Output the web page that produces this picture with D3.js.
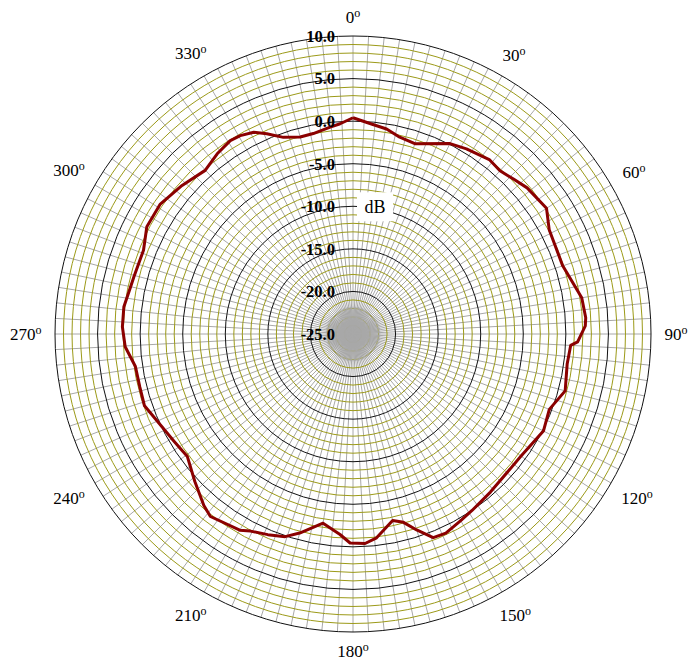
<!DOCTYPE html>
<html>
<head>
<meta charset="utf-8">
<script src="https://cdn.jsdelivr.net/npm/d3@7"></script>
<style>
	body { margin: 0; background: #fff; }
	svg text { font-family: 'Liberation Serif', 'Times New Roman', serif; }
</style>
</head>
<body>
<div id="chart"></div>
<script>
// measured pattern (degrees clockwise from top, dB)
const angles = [ 0, 4.6, 9.3, 13, 18, 27, 31.5, 38, 42, 46, 50, 57, 62, 72, 81, 86, 88, 92, 93, 98, 105, 111, 117, 126, 139, 146,
	150, 155, 158.5, 162, 165, 168, 173.4, 176.7, 180.8, 183.7, 189, 195, 198.5, 203, 207.5, 210, 218, 221, 227, 233.5, 239, 251, 256,
	261.5, 266.8, 271.8, 276.8, 282, 284.6, 291.8, 297.5, 304, 311, 317.9, 323, 327.6, 330.4, 333.8, 336.7, 340.5, 345, 348.8, 353.7,
	356.5, 360 ];
const gains = [ 0.4, -0.2, -0.6, -1.2, -1.5, 0.1, 0.5, 1.0, 0.8, 1.2, 1.7, 2.1, 1.1, 0.9, 2.2, 2.4, 2.3, 1.4, 0.6, 0.4, 0.8, -0.3, 0.1,
	-0.6, -0.4, 0.0, 0.3, 0.8, 0.7, -0.8, -2.1, -2.6, -0.9, -0.35, -0.45, -1.4, -2.5, -0.8, 0.1, 0.6, 1.1, 1.6, 2.2, 1.7, 0.4, -0.8, -0.5,
	0.9, 0.8, 0.84, 1.8, 2.1, 2.1, 1.7, 1.6, 1.5, 2.3, 2.3, 1.6, 0.9, 1.5, 1.9, 1.8, 1.4, 0.6, -0.5, -1.05, -1.0, -0.55, -0.26, 0.4 ];

const radialTicks = [ 10, 5, 0, -5, -10, -15, -20, -25 ];
const angleTicks = [ 0, 30, 60, 90, 120, 150, 180, 210, 240, 270, 300, 330 ];
const radialLabels = [ '10.0', '5.0', '0.0', '-5.0', '-10.0', '-15.0', '-20.0', '-25.0' ];

const width = 691,
	height = 665;
const cx = 353,
	cy = 334,
	R = 298;

const svg = d3.select('#chart').append('svg').attr('width', width).attr('height', height);
const g = svg.append('g').attr('transform', `translate(${cx}, ${cy})`);

const r = d3.scaleLinear().domain([ -25, 10 ]).range([ 0, R ]);
const rad = (d) => d * Math.PI / 180;
const spokeAngles = d3.range(0, 360, 3);

function spokes(parent, outer) {
	parent
		.append('g')
		.selectAll('line')
		.data(spokeAngles)
		.enter()
		.append('line')
		.attr('x1', 0)
		.attr('y1', 0)
		.attr('x2', (d) => outer * Math.sin(rad(d)))
		.attr('y2', (d) => -outer * Math.cos(rad(d)))
		.attr('stroke', '#a8a8a8')
		.attr('stroke-width', 1);
}

// spokes every 3 degrees
spokes(g, r(10));

// rings every 1 dB, black every 5
g
	.append('g')
	.selectAll('circle')
	.data(d3.range(-24, 11))
	.enter()
	.append('circle')
	.attr('r', (d) => r(d))
	.attr('fill', 'none')
	.attr('stroke', (d) => (d % 5 === 0 ? '#111' : '#9c9a18'))
	.attr('stroke-width', 1);

// dense spokes hide the innermost rings
spokes(g, r(-21.8));

// pattern
const line = d3
	.lineRadial()
	.angle((d, i) => rad(angles[i]))
	.radius((d) => r(d))
	.curve(d3.curveLinear);

g
	.append('path')
	.datum(gains)
	.attr('d', line)
	.attr('fill', 'none')
	.attr('stroke', '#8b0000')
	.attr('stroke-width', 3)
	.attr('stroke-linejoin', 'round');

// radial labels
g
	.append('g')
	.selectAll('text')
	.data(radialTicks)
	.enter()
	.append('text')
	.attr('x', -18)
	.attr('y', (d) => -r(d))
	.attr('dy', '0.35em')
	.attr('text-anchor', 'end')
	.attr('font-size', 16.5)
	.attr('font-weight', 'bold')
	.text((d, i) => radialLabels[i]);

// dB unit box
const dbY = -r(-10);
g.append('rect').attr('x', 4).attr('y', dbY - 14).attr('width', 36).attr('height', 29).attr('fill', '#fff');
g
	.append('text')
	.attr('x', 22)
	.attr('y', dbY)
	.attr('dy', '0.35em')
	.attr('text-anchor', 'middle')
	.attr('font-size', 18)
	.text('dB');

// angle labels
const angLab = g
	.append('g')
	.selectAll('text')
	.data(angleTicks)
	.enter()
	.append('text')
	.attr('font-size', 17)
	.attr('text-anchor', 'middle')
	.attr('dy', '0.35em')
	.each(function(d) {
		const t = rad(d);
		const w = String(d).length * 8.5 + 7;
		const off = R + 13 + w / 2 * Math.abs(Math.sin(t)) + 6 * Math.abs(Math.cos(t));
		d3.select(this).attr('x', off * Math.sin(t)).attr('y', -off * Math.cos(t));
	});
angLab.append('tspan').text((d) => d);
angLab.append('tspan').attr('font-size', 12).attr('dy', '-0.5em').text('o');
</script>
</body>
</html>
